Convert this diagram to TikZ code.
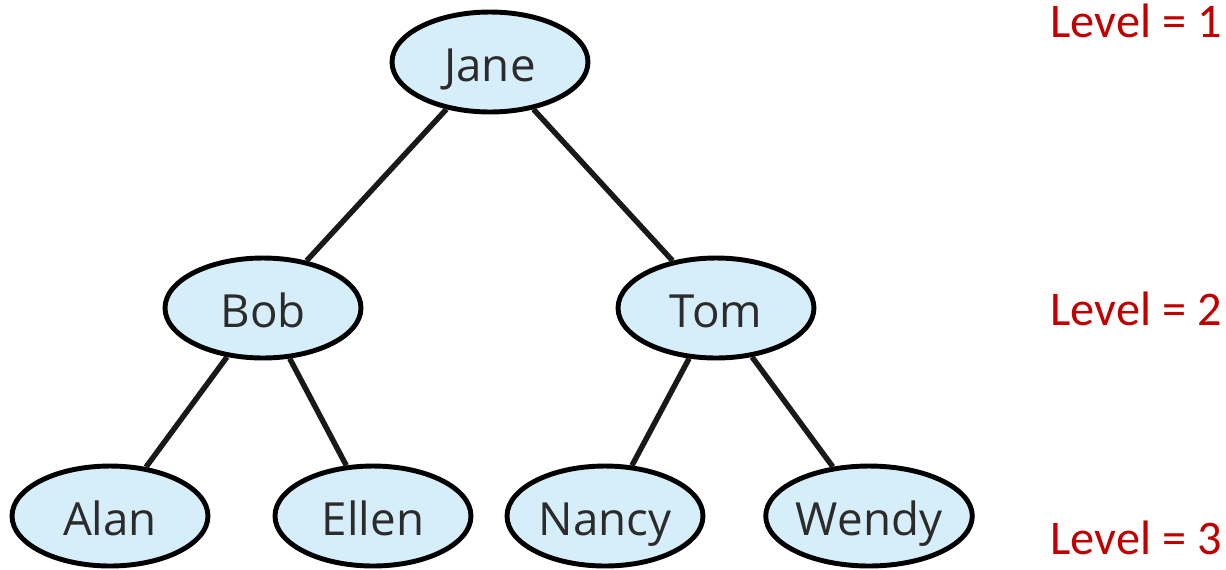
\documentclass[tikz,border=0pt]{standalone}
\usepackage{fontspec}
\setmainfont{Open Sans}
\newfontfamily\lvlfont{Carlito}
\usetikzlibrary{shapes.geometric}
\definecolor{nodefill}{HTML}{D5EEF9}
\definecolor{nodetext}{HTML}{2B2B2B}
\definecolor{lvlred}{HTML}{C00000}
\tikzset{
  person/.style={ellipse, draw=black, line width=2.8pt, fill=nodefill,
    minimum width=3.92cm, minimum height=2.0cm, inner sep=0pt,
    text height=22pt, text depth=0pt,
    text=nodetext, font=\fontsize{26}{30}\selectfont},
  link/.style={line width=3.1pt, draw=black!90},
  lvl/.style={anchor=base east, text=lvlred, inner sep=0pt,
    font=\lvlfont\fontsize{27.5}{32}\selectfont}
}
\begin{document}
\begin{tikzpicture}[x=0.02cm,y=-0.02cm]
\useasboundingbox (0,0) rectangle (1226,569);
\node[person] (jane) at (490,62) {Jane};
\node[person] (bob) at (263,308) {Bob};
\node[person] (tom) at (716,308) {Tom};
\node[person] (alan) at (110,516) {Alan};
\node[person] (ellen) at (373,516) {Ellen};
\node[person] (nancy) at (605,516) {Nancy};
\node[person] (wendy) at (869,516) {Wendy};
\draw[link] (jane) -- (bob);
\draw[link] (jane) -- (tom);
\draw[link] (bob) -- (alan);
\draw[link] (bob) -- (ellen);
\draw[link] (tom) -- (nancy);
\draw[link] (tom) -- (wendy);
\node[lvl] (l1) at (1222,37) {Level = 1};
\node[lvl] (l2) at (1222,325) {Level = 2};
\node[lvl] (l3) at (1222,554) {Level = 3};
\end{tikzpicture}
\end{document}
